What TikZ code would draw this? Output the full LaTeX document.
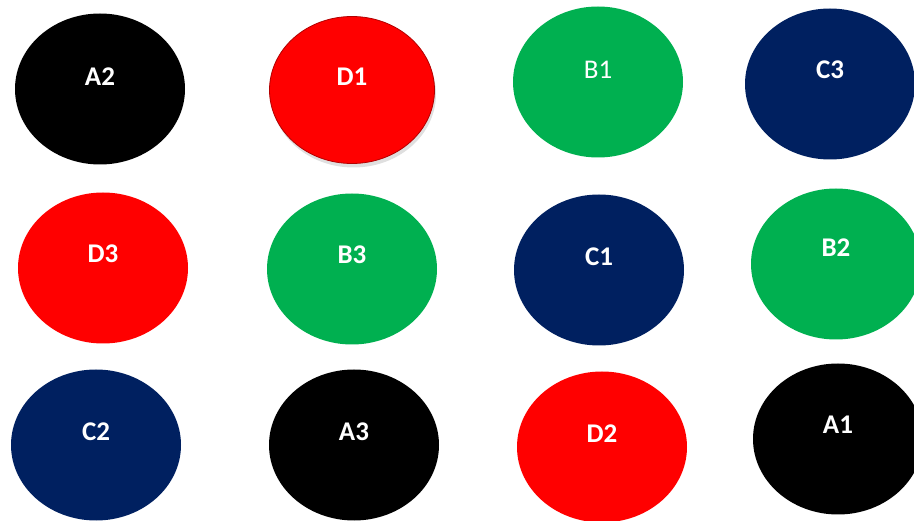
\documentclass[tikz,border=0pt]{standalone}
\usepackage{fontspec}
\setmainfont{Carlito}
\usetikzlibrary{shapes.geometric,shadows}

\definecolor{ballred}{RGB}{255,0,0}
\definecolor{ballgreen}{RGB}{0,176,80}
\definecolor{ballnavy}{RGB}{0,32,96}

\begin{document}
\begin{tikzpicture}[
  x=1pt, y=-1pt,
  every node/.style={ellipse, minimum width=170pt, minimum height=151pt,
  inner sep=0pt, text=white, font=\fontsize{27}{30}\selectfont\bfseries},
  redball/.style={fill=ballred},
  greenball/.style={fill=ballgreen},
  navyball/.style={fill=ballnavy},
  blackball/.style={fill=black}
]
\useasboundingbox (0,0) rectangle (914,521);

% top row
\node[blackball] (a2) at (100,89) {\raisebox{25pt}{A2}};
\node[redball, minimum width=165pt, minimum height=147pt, draw=ballred!70!black,
  line width=0.8pt, drop shadow={opacity=0.25, shadow xshift=1.5pt,
  shadow yshift=-4pt}] (d1) at (352,90) {\raisebox{27pt}{D1}};
\node[greenball, font=\fontsize{27}{30}\selectfont] (b1) at (598,82) {\raisebox{25pt}{B1}};
\node[navyball] (c3) at (830,84) {\raisebox{28pt}{C3}};

% middle row
\node[redball] (d3) at (103,268) {\raisebox{28pt}{D3}};
\node[greenball] (b3) at (352,269) {\raisebox{28pt}{B3}};
\node[navyball] (c1) at (599,270) {\raisebox{26pt}{C1}};
\node[greenball] (b2) at (836,264) {\raisebox{32pt}{B2}};

% bottom row
\node[navyball] (c2) at (96,445) {\raisebox{26pt}{C2}};
\node[blackball] (a3) at (354,445) {\raisebox{26pt}{A3}};
\node[redball] (d2) at (602,447) {\raisebox{26pt}{D2}};
\node[blackball] (a1) at (838,439) {\raisebox{28pt}{A1}};

\end{tikzpicture}
\end{document}
